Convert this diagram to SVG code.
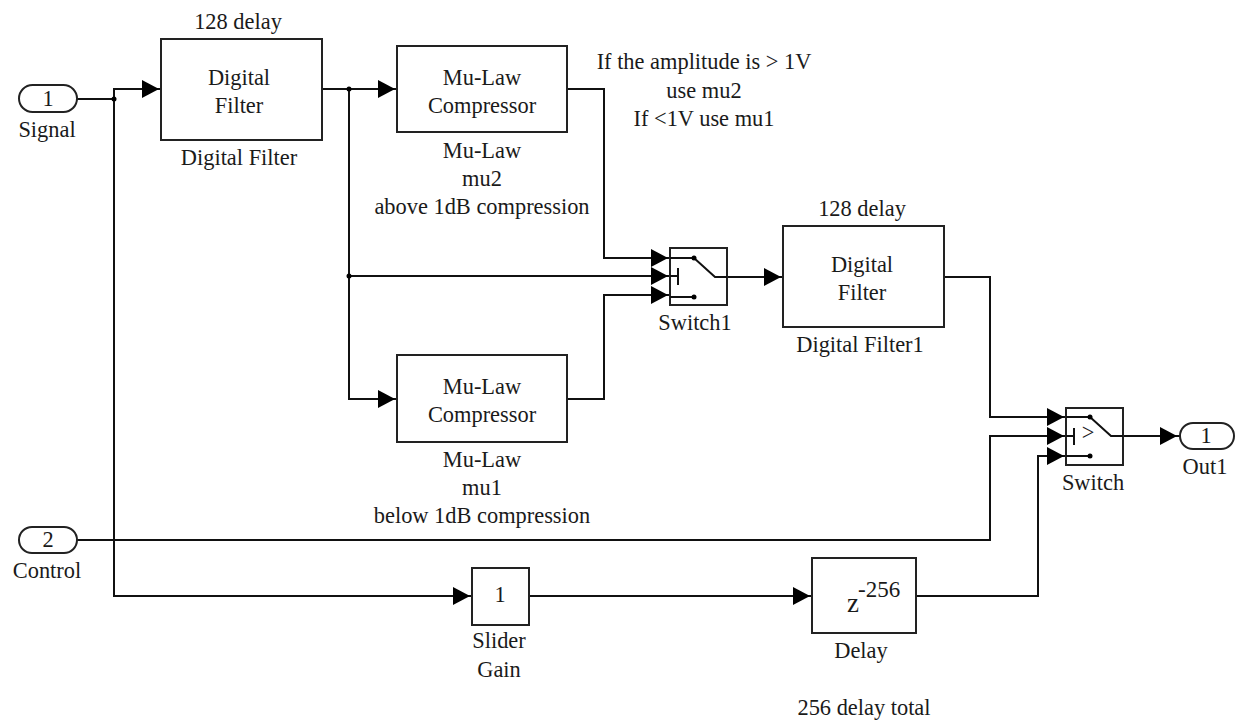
<svg xmlns="http://www.w3.org/2000/svg" width="1235" height="721" viewBox="0 0 1235 721">
<style>
text{font-family:"Liberation Serif","Times New Roman",serif;font-size:22.4px;fill:#1a1a1a;text-anchor:middle}
.b{fill:#fff;stroke:#222;stroke-width:2}
.w{fill:none;stroke:#111;stroke-width:2}
.a{fill:#000}
.d{fill:#000}
</style>
<defs>
<path id="ah" class="a" d="M-17,-9 L0,0 L-17,9 Z"/>
</defs>
<rect width="1235" height="721" fill="#fff"/>
<g id="connectors">
<path class="w" d="M77,99 H114 V89 H160"/>
<path class="w" d="M114,99 V596 H471"/>
<path class="w" d="M321,89 H396"/>
<path class="w" d="M349,89 V399 H396"/>
<path class="w" d="M349,276 H669"/>
<path class="w" d="M567,89 H604 V258 H669"/>
<path class="w" d="M567,399 H604 V295 H669"/>
<path class="w" d="M727,277 H782"/>
<path class="w" d="M944,277 H990 V417 H1066"/>
<path class="w" d="M77,540 H990 V436 H1066"/>
<path class="w" d="M529,596 H811"/>
<path class="w" d="M916,596 H1038 V456 H1066"/>
<path class="w" d="M1123,436 H1180"/>
<circle class="d" cx="114" cy="99" r="2.5"/>
<circle class="d" cx="349" cy="89" r="2.5"/>
<circle class="d" cx="349" cy="276" r="2.5"/>
<use href="#ah" x="159" y="89"/>
<use href="#ah" x="395" y="89"/>
<use href="#ah" x="395" y="399"/>
<use href="#ah" x="668" y="258"/>
<use href="#ah" x="668" y="276"/>
<use href="#ah" x="668" y="295"/>
<use href="#ah" x="781" y="277"/>
<use href="#ah" x="1064" y="417"/>
<use href="#ah" x="1064" y="436"/>
<use href="#ah" x="1064" y="456"/>
<use href="#ah" x="470" y="596"/>
<use href="#ah" x="810" y="596"/>
<use href="#ah" x="1177" y="436"/>
</g>
<g id="in1"><rect class="b" x="19" y="85" width="58" height="27" rx="13.5"/><text x="48" y="106">1</text><text x="47" y="137">Signal</text></g>
<g id="in2"><rect class="b" x="19" y="527" width="58" height="26" rx="13"/><text x="48" y="547">2</text><text x="47" y="578">Control</text></g>
<g id="filter1"><rect class="b" x="161" y="39" width="161" height="101"/><text x="238" y="29">128 delay</text><text x="239" y="85">Digital</text><text x="239" y="113">Filter</text><text x="239" y="165">Digital Filter</text></g>
<g id="mu2"><rect class="b" x="397" y="46" width="170" height="86"/><text x="482" y="85">Mu-Law</text><text x="482" y="113">Compressor</text><text x="482" y="158">Mu-Law</text><text x="482" y="186">mu2</text><text x="482" y="214">above 1dB compression</text></g>
<g id="mu1"><rect class="b" x="397" y="355" width="170" height="87"/><text x="482" y="394">Mu-Law</text><text x="482" y="422">Compressor</text><text x="482" y="467">Mu-Law</text><text x="482" y="495">mu1</text><text x="482" y="523">below 1dB compression</text></g>
<g id="note1"><text x="704" y="69">If the amplitude is &gt; 1V</text><text x="704" y="98">use mu2</text><text x="704" y="126">If &lt;1V use mu1</text></g>
<g id="switch1"><rect class="b" x="670" y="248" width="57" height="57"/><path class="w" d="M670,258 H694 L715,277 H727 M670,276 H678 M678,268 V285 M670,297 H694"/><circle class="d" cx="694" cy="258" r="2.5"/><circle class="d" cx="694" cy="297" r="2.5"/><text x="695" y="330">Switch1</text></g>
<g id="filter2"><rect class="b" x="783" y="226" width="161" height="101"/><text x="862" y="216">128 delay</text><text x="862" y="272">Digital</text><text x="862" y="300">Filter</text><text x="860" y="352">Digital Filter1</text></g>
<g id="switch"><rect class="b" x="1066" y="408" width="57" height="57"/><path class="w" d="M1066,417 H1090 L1111,436 H1123 M1066,436 H1074 M1074,428 V445 M1066,456 H1090"/><circle class="d" cx="1090" cy="417" r="2.5"/><circle class="d" cx="1090" cy="456" r="2.5"/><text x="1088" y="440">&gt;</text><text x="1093" y="490">Switch</text></g>
<g id="out1"><rect class="b" x="1180" y="423" width="54" height="26" rx="13"/><text x="1206" y="443">1</text><text x="1205" y="474">Out1</text></g>
<g id="gain"><rect class="b" x="472" y="568" width="57" height="57"/><text x="500" y="602">1</text><text x="499" y="648">Slider</text><text x="499" y="677">Gain</text></g>
<g id="delay"><rect class="b" x="812" y="558" width="104" height="75"/><text x="847" y="612" style="font-size:27px;text-anchor:start">z</text><text x="858" y="597" style="font-size:23px;text-anchor:start">-256</text><text x="861" y="658">Delay</text></g>
<g id="note2"><text x="864" y="715">256 delay total</text></g>
</svg>
